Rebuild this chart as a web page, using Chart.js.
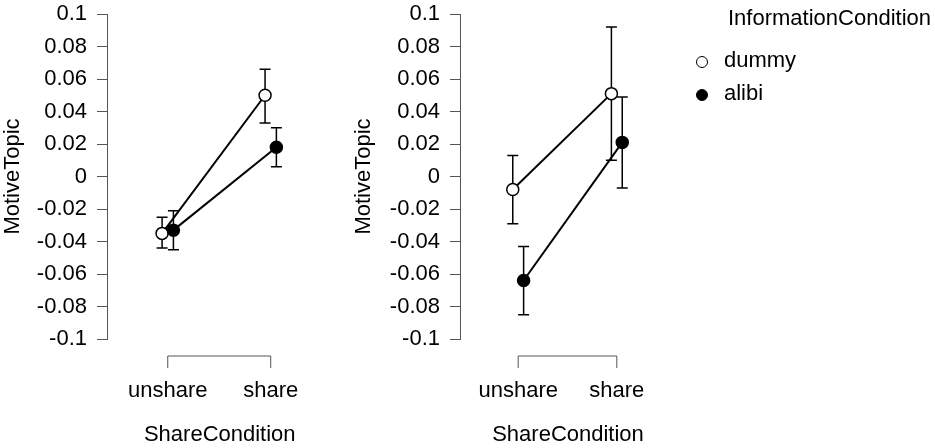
<!DOCTYPE html>
<html lang="en">
    <head>
        <meta charset="UTF-8">
        <title>MotiveTopic by ShareCondition</title>
        <script src="https://cdn.jsdelivr.net/npm/chart.js"></script>
        <style>
            body {
                margin: 0;
                width: 935px;
                height: 448px;
                background: #fff;
                position: relative;
                overflow: hidden;
                font-family: 'Liberation Sans', Arial, sans-serif;
            }
            .panel {
                position: absolute;
                top: 0;
                height: 448px;
            }
            #panel1 { left: 0; width: 340px; }
            #panel2 { left: 340px; width: 360px; }
            .legend {
                position: absolute;
                left: 696px;
                top: 4px;
                font-size: 22px;
                color: #000;
            }
            .legend .title { margin-left: 32px; height: 27px; line-height: 27px; }
            .legend .item { height: 33px; line-height: 33px; }
            .legend .dot {
                display: inline-block;
                width: 10px;
                height: 10px;
                border: 1.5px solid #000;
                border-radius: 50%;
                margin-right: 16px;
                vertical-align: -1px;
            }
        </style>
    </head>
    <body>
        <div class="panel" id="panel1"><canvas id="chart1"></canvas></div>
        <div class="panel" id="panel2"><canvas id="chart2"></canvas></div>

        <div class="legend">
            <div class="title">InformationCondition</div>
            <div class="item" style="margin-top:12px"><span class="dot" style="background:#fff"></span>dummy</div>
            <div class="item"><span class="dot" style="background:#000"></span>alibi</div>
        </div>

        <script>
            // data
            const categories = ['unshare', 'share'];
            const seriesNames = ['dummy', 'alibi'];

            const yTicks = [-0.1, -0.08, -0.06, -0.04, -0.02, 0, 0.02, 0.04, 0.06, 0.08, 0.1];
            const yTickLabels = ['-0.1', '-0.08', '-0.06', '-0.04', '-0.02', '0', '0.02', '0.04', '0.06', '0.08', '0.1'];

            // left panel
            const p1Dummy = [-0.035, 0.050];
            const p1DummyLow = [-0.044, 0.033];
            const p1DummyHigh = [-0.025, 0.066];
            const p1Alibi = [-0.033, 0.018];
            const p1AlibiLow = [-0.045, 0.006];
            const p1AlibiHigh = [-0.021, 0.030];

            // right panel
            const p2Dummy = [-0.008, 0.051];
            const p2DummyLow = [-0.029, 0.010];
            const p2DummyHigh = [0.013, 0.092];
            const p2Alibi = [-0.064, 0.021];
            const p2AlibiLow = [-0.085, -0.007];
            const p2AlibiHigh = [-0.043, 0.049];

            const dodge = 0.055;
            const axisGray = '#555';

            Chart.defaults.font.family = "'Liberation Sans', Arial, sans-serif";
            Chart.defaults.font.size = 22;
            Chart.defaults.color = '#000';

            // error bars under the points, R style bracket for the x axis
            const rStyle = {
                id: 'rStyle',
                beforeDatasetsDraw(chart) {
                    const ctx = chart.ctx;
                    const xs = chart.scales.x, ys = chart.scales.y;
                    ctx.save();
                    ctx.strokeStyle = '#000';
                    ctx.lineWidth = 1.5;
                    chart.data.datasets.forEach(ds => {
                        ds.data.forEach((p, j) => {
                            const x = xs.getPixelForValue(p.x);
                            const yl = ys.getPixelForValue(ds.errLow[j]);
                            const yh = ys.getPixelForValue(ds.errHigh[j]);
                            ctx.beginPath();
                            ctx.moveTo(x, yl); ctx.lineTo(x, yh);
                            ctx.moveTo(x - 5.5, yl); ctx.lineTo(x + 5.5, yl);
                            ctx.moveTo(x - 5.5, yh); ctx.lineTo(x + 5.5, yh);
                            ctx.stroke();
                        });
                    });
                    ctx.restore();
                },
                afterDraw(chart) {
                    const ctx = chart.ctx;
                    const xs = chart.scales.x;
                    const y0 = chart.chartArea.bottom + 17;
                    const x1 = xs.getPixelForValue(1);
                    const x2 = xs.getPixelForValue(categories.length);
                    ctx.save();
                    ctx.strokeStyle = axisGray;
                    ctx.lineWidth = 1;
                    ctx.beginPath();
                    ctx.moveTo(x1, y0 + 12); ctx.lineTo(x1, y0);
                    ctx.lineTo(x2, y0); ctx.lineTo(x2, y0 + 12);
                    ctx.stroke();
                    ctx.restore();
                }
            };

            function makeSeries(name, values, low, high, offset) {
                const filled = name === 'alibi';
                return {
                    label: name,
                    data: values.map((v, i) => ({ x: i + 1 + offset, y: v })),
                    errLow: low,
                    errHigh: high,
                    showLine: true,
                    borderColor: '#000',
                    borderWidth: 2,
                    pointRadius: 6,
                    pointBorderWidth: 1.5,
                    pointBorderColor: '#000',
                    pointBackgroundColor: filled ? '#000' : '#fff',
                    order: filled ? 0 : 1,
                    clip: false
                };
            }

            function makeChart(id, datasets, axisWidth, padRight, titlePad) {
                new Chart(document.getElementById(id), {
                    type: 'scatter',
                    data: { datasets: datasets },
                    plugins: [rStyle],
                    options: {
                        responsive: true,
                        maintainAspectRatio: false,
                        animation: false,
                        events: [],
                        layout: { padding: { top: 0, right: padRight, bottom: 0, left: 0 } },
                        plugins: { legend: { display: false }, tooltip: { enabled: false } },
                        scales: {
                            x: {
                                type: 'linear',
                                min: 0.41,
                                max: 2.6,
                                grid: { display: false, drawTicks: false },
                                border: { display: false },
                                afterBuildTicks: s => { s.ticks = categories.map((c, i) => ({ value: i + 1 })); },
                                afterFit: s => { s.height = 109; },
                                ticks: {
                                    padding: 39,
                                    maxRotation: 0,
                                    callback: (v, i) => categories[i]
                                },
                                title: {
                                    display: true,
                                    text: 'ShareCondition',
                                    padding: { top: 0, bottom: 0 }
                                }
                            },
                            y: {
                                min: -0.1,
                                max: 0.1,
                                afterBuildTicks: s => { s.ticks = yTicks.map(v => ({ value: v })); },
                                afterFit: s => {
                                    s.width = axisWidth;
                                    s.paddingTop = 14;
                                    s.paddingBottom = 0;
                                },
                                grid: {
                                    drawOnChartArea: false,
                                    drawTicks: true,
                                    tickLength: 10,
                                    color: axisGray,
                                    lineWidth: 1
                                },
                                border: { display: true, color: axisGray, width: 1 },
                                ticks: {
                                    padding: 10,
                                    callback: (v, i) => yTickLabels[i]
                                },
                                title: {
                                    display: true,
                                    text: 'MotiveTopic',
                                    padding: { top: titlePad, bottom: 0 }
                                }
                            }
                        }
                    }
                });
            }

            makeChart('chart1', [
                makeSeries(seriesNames[0], p1Dummy, p1DummyLow, p1DummyHigh, -dodge),
                makeSeries(seriesNames[1], p1Alibi, p1AlibiLow, p1AlibiHigh, dodge)
            ], 107, 7, 0);

            makeChart('chart2', [
                makeSeries(seriesNames[0], p2Dummy, p2DummyLow, p2DummyHigh, -dodge),
                makeSeries(seriesNames[1], p2Alibi, p2AlibiLow, p2AlibiHigh, dodge)
            ], 120, 24, 11);
        </script>
    </body>
</html>
